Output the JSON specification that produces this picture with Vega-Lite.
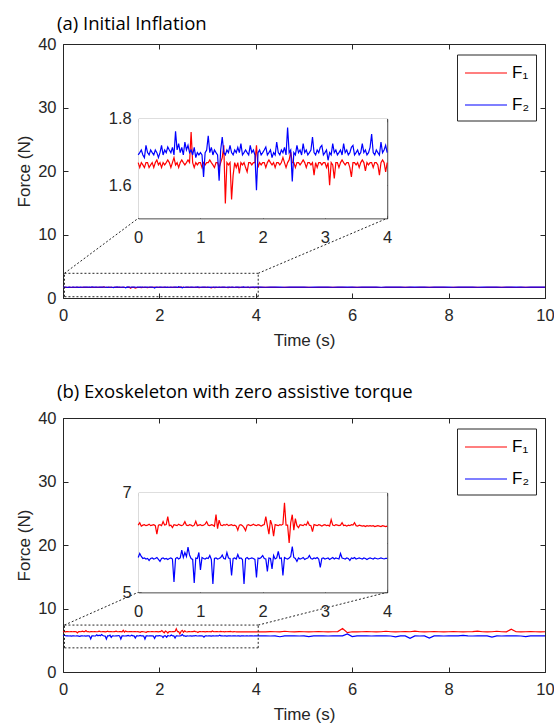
{
"$schema": "https://vega.github.io/schema/vega-lite/v6.json",
"padding": {"left": 15, "top": 14, "right": 5, "bottom": 5},
"config": {
 "view": {"stroke": null},
 "axis": {"grid": false, "minExtent": 0, "domainColor": "#262626", "tickColor": "#262626", "labelColor": "#262626", "titleColor": "#262626", "labelFont": "Liberation Sans", "titleFont": "Liberation Sans", "labelFontSize": 16.5, "titleFontSize": 17, "titleFontWeight": "normal", "domainWidth": 1, "tickWidth": 1, "labelFlush": false, "labelOverlap": false},
 "title": {"font": "Open Sans", "fontSize": 18.5, "fontWeight": "normal", "color": "#000000"},
 "legend": {"labelFont": "Liberation Sans", "labelFontSize": 17, "labelColor": "#000000"}
},
"resolve": {"scale": {"color": "independent"}, "legend": {"color": "independent"}},
"spacing": 33,
"datasets": {
"d": [
{"t":0,"a1":1.668,"a2":1.691,"b1":6.35,"b2":5.70},
{"t":0.025,"a1":1.653,"a2":1.698,"b1":6.40,"b2":5.78},
{"t":0.05,"a1":1.668,"a2":1.706,"b1":6.33,"b2":5.72},
{"t":0.075,"a1":1.661,"a2":1.691,"b1":6.35,"b2":5.68},
{"t":0.1,"a1":1.653,"a2":1.683,"b1":6.36,"b2":5.69},
{"t":0.125,"a1":1.668,"a2":1.72,"b1":6.34,"b2":5.67},
{"t":0.15,"a1":1.668,"a2":1.698,"b1":6.35,"b2":5.68},
{"t":0.175,"a1":1.653,"a2":1.691,"b1":6.37,"b2":5.64},
{"t":0.2,"a1":1.661,"a2":1.706,"b1":6.34,"b2":5.68},
{"t":0.225,"a1":1.668,"a2":1.698,"b1":6.35,"b2":5.69},
{"t":0.25,"a1":1.653,"a2":1.691,"b1":6.36,"b2":5.67},
{"t":0.275,"a1":1.668,"a2":1.706,"b1":6.34,"b2":5.68},
{"t":0.3,"a1":1.676,"a2":1.698,"b1":6.17,"b2":5.70},
{"t":0.325,"a1":1.661,"a2":1.683,"b1":6.35,"b2":5.66},
{"t":0.35,"a1":1.668,"a2":1.698,"b1":6.36,"b2":5.62},
{"t":0.375,"a1":1.653,"a2":1.72,"b1":6.34,"b2":5.68},
{"t":0.4,"a1":1.668,"a2":1.691,"b1":6.42,"b2":5.69},
{"t":0.425,"a1":1.661,"a2":1.706,"b1":6.35,"b2":5.67},
{"t":0.45,"a1":1.668,"a2":1.698,"b1":6.36,"b2":5.68},
{"t":0.475,"a1":1.676,"a2":1.715,"b1":6.52,"b2":5.66},
{"t":0.5,"a1":1.668,"a2":1.706,"b1":6.34,"b2":5.68},
{"t":0.525,"a1":1.653,"a2":1.698,"b1":6.35,"b2":5.69},
{"t":0.55,"a1":1.668,"a2":1.714,"b1":6.30,"b2":5.67},
{"t":0.575,"a1":1.683,"a2":1.691,"b1":6.36,"b2":5.21},
{"t":0.6,"a1":1.661,"a2":1.762,"b1":6.35,"b2":5.68},
{"t":0.625,"a1":1.668,"a2":1.706,"b1":6.34,"b2":5.70},
{"t":0.65,"a1":1.653,"a2":1.725,"b1":6.37,"b2":5.67},
{"t":0.675,"a1":1.668,"a2":1.698,"b1":6.35,"b2":5.69},
{"t":0.7,"a1":1.676,"a2":1.714,"b1":6.34,"b2":5.85},
{"t":0.725,"a1":1.668,"a2":1.691,"b1":6.36,"b2":5.70},
{"t":0.75,"a1":1.661,"a2":1.73,"b1":6.42,"b2":5.80},
{"t":0.775,"a1":1.668,"a2":1.706,"b1":6.35,"b2":5.72},
{"t":0.8,"a1":1.676,"a2":1.72,"b1":6.34,"b2":5.91},
{"t":0.825,"a1":1.668,"a2":1.698,"b1":6.36,"b2":5.75},
{"t":0.85,"a1":1.76,"a2":1.706,"b1":6.35,"b2":5.68},
{"t":0.875,"a1":1.668,"a2":1.691,"b1":6.33,"b2":5.66},
{"t":0.9,"a1":1.653,"a2":1.714,"b1":6.35,"b2":5.19},
{"t":0.925,"a1":1.668,"a2":1.683,"b1":6.43,"b2":5.69},
{"t":0.95,"a1":1.661,"a2":1.698,"b1":6.34,"b2":5.68},
{"t":0.975,"a1":1.668,"a2":1.691,"b1":6.35,"b2":5.80},
{"t":1,"a1":1.668,"a2":1.698,"b1":6.36,"b2":5.45},
{"t":1.025,"a1":1.653,"a2":1.691,"b1":6.34,"b2":5.70},
{"t":1.05,"a1":1.668,"a2":1.625,"b1":6.35,"b2":5.68},
{"t":1.075,"a1":1.661,"a2":1.698,"b1":6.37,"b2":5.67},
{"t":1.1,"a1":1.668,"a2":1.706,"b1":6.42,"b2":5.69},
{"t":1.125,"a1":1.668,"a2":1.749,"b1":6.35,"b2":5.68},
{"t":1.15,"a1":1.676,"a2":1.698,"b1":6.34,"b2":5.74},
{"t":1.175,"a1":1.668,"a2":1.714,"b1":6.36,"b2":5.66},
{"t":1.2,"a1":1.661,"a2":1.691,"b1":6.35,"b2":5.17},
{"t":1.225,"a1":1.653,"a2":1.706,"b1":6.33,"b2":5.68},
{"t":1.25,"a1":1.668,"a2":1.698,"b1":6.56,"b2":5.69},
{"t":1.275,"a1":1.668,"a2":1.691,"b1":6.28,"b2":5.67},
{"t":1.3,"a1":1.653,"a2":1.613,"b1":6.45,"b2":5.68},
{"t":1.325,"a1":1.668,"a2":1.706,"b1":6.35,"b2":5.70},
{"t":1.35,"a1":1.683,"a2":1.745,"b1":6.34,"b2":5.75},
{"t":1.375,"a1":1.72,"a2":1.698,"b1":6.36,"b2":5.68},
{"t":1.4,"a1":1.545,"a2":1.691,"b1":6.35,"b2":5.67},
{"t":1.425,"a1":1.668,"a2":1.706,"b1":6.37,"b2":5.80},
{"t":1.45,"a1":1.661,"a2":1.698,"b1":6.34,"b2":5.69},
{"t":1.475,"a1":1.668,"a2":1.72,"b1":6.35,"b2":5.68},
{"t":1.5,"a1":1.557,"a2":1.698,"b1":6.36,"b2":5.34},
{"t":1.525,"a1":1.63,"a2":1.691,"b1":6.34,"b2":5.68},
{"t":1.55,"a1":1.668,"a2":1.706,"b1":6.35,"b2":5.69},
{"t":1.575,"a1":1.653,"a2":1.698,"b1":6.33,"b2":5.67},
{"t":1.6,"a1":1.668,"a2":1.714,"b1":6.25,"b2":5.76},
{"t":1.625,"a1":1.635,"a2":1.698,"b1":6.35,"b2":5.68},
{"t":1.65,"a1":1.668,"a2":1.725,"b1":6.36,"b2":5.69},
{"t":1.675,"a1":1.661,"a2":1.691,"b1":6.34,"b2":5.66},
{"t":1.7,"a1":1.668,"a2":1.698,"b1":6.30,"b2":5.17},
{"t":1.725,"a1":1.653,"a2":1.706,"b1":6.24,"b2":5.68},
{"t":1.75,"a1":1.64,"a2":1.698,"b1":6.35,"b2":5.70},
{"t":1.775,"a1":1.668,"a2":1.691,"b1":6.36,"b2":5.67},
{"t":1.8,"a1":1.668,"a2":1.72,"b1":6.34,"b2":5.68},
{"t":1.825,"a1":1.661,"a2":1.698,"b1":6.35,"b2":5.69},
{"t":1.85,"a1":1.668,"a2":1.706,"b1":6.37,"b2":5.68},
{"t":1.875,"a1":1.668,"a2":1.691,"b1":6.35,"b2":5.66},
{"t":1.9,"a1":1.72,"a2":1.585,"b1":6.34,"b2":5.30},
{"t":1.925,"a1":1.653,"a2":1.698,"b1":6.36,"b2":5.69},
{"t":1.95,"a1":1.668,"a2":1.706,"b1":6.35,"b2":5.68},
{"t":1.975,"a1":1.661,"a2":1.691,"b1":6.33,"b2":5.70},
{"t":2,"a1":1.668,"a2":1.698,"b1":6.35,"b2":5.74},
{"t":2.025,"a1":1.668,"a2":1.706,"b1":6.36,"b2":5.68},
{"t":2.05,"a1":1.653,"a2":1.715,"b1":6.52,"b2":5.67},
{"t":2.075,"a1":1.668,"a2":1.691,"b1":6.34,"b2":5.42},
{"t":2.1,"a1":1.676,"a2":1.698,"b1":6.17,"b2":5.69},
{"t":2.125,"a1":1.668,"a2":1.706,"b1":6.45,"b2":5.68},
{"t":2.15,"a1":1.661,"a2":1.683,"b1":6.35,"b2":5.47},
{"t":2.175,"a1":1.668,"a2":1.698,"b1":6.13,"b2":5.74},
{"t":2.2,"a1":1.653,"a2":1.691,"b1":6.36,"b2":5.67},
{"t":2.225,"a1":1.668,"a2":1.73,"b1":6.35,"b2":5.69},
{"t":2.25,"a1":1.668,"a2":1.698,"b1":6.34,"b2":5.82},
{"t":2.275,"a1":1.661,"a2":1.691,"b1":6.36,"b2":5.68},
{"t":2.3,"a1":1.668,"a2":1.706,"b1":6.35,"b2":5.69},
{"t":2.325,"a1":1.683,"a2":1.698,"b1":6.37,"b2":5.34},
{"t":2.35,"a1":1.668,"a2":1.714,"b1":6.80,"b2":5.70},
{"t":2.375,"a1":1.653,"a2":1.691,"b1":6.35,"b2":5.68},
{"t":2.4,"a1":1.668,"a2":1.774,"b1":6.35,"b2":5.67},
{"t":2.425,"a1":1.676,"a2":1.698,"b1":5.99,"b2":5.69},
{"t":2.45,"a1":1.70,"a2":1.706,"b1":6.40,"b2":5.72},
{"t":2.475,"a1":1.668,"a2":1.611,"b1":6.56,"b2":5.92},
{"t":2.5,"a1":1.668,"a2":1.698,"b1":6.25,"b2":5.70},
{"t":2.525,"a1":1.653,"a2":1.691,"b1":6.48,"b2":5.68},
{"t":2.55,"a1":1.668,"a2":1.72,"b1":6.34,"b2":5.62},
{"t":2.575,"a1":1.668,"a2":1.698,"b1":6.30,"b2":5.69},
{"t":2.6,"a1":1.661,"a2":1.706,"b1":6.36,"b2":5.67},
{"t":2.625,"a1":1.668,"a2":1.691,"b1":6.35,"b2":5.68},
{"t":2.65,"a1":1.676,"a2":1.725,"b1":6.34,"b2":5.70},
{"t":2.675,"a1":1.668,"a2":1.698,"b1":6.37,"b2":5.66},
{"t":2.7,"a1":1.653,"a2":1.706,"b1":6.35,"b2":5.68},
{"t":2.725,"a1":1.668,"a2":1.691,"b1":6.42,"b2":5.69},
{"t":2.75,"a1":1.668,"a2":1.698,"b1":6.35,"b2":5.74},
{"t":2.775,"a1":1.661,"a2":1.706,"b1":6.34,"b2":5.68},
{"t":2.8,"a1":1.668,"a2":1.745,"b1":6.22,"b2":5.67},
{"t":2.825,"a1":1.63,"a2":1.698,"b1":6.36,"b2":5.69},
{"t":2.85,"a1":1.668,"a2":1.691,"b1":6.35,"b2":5.68},
{"t":2.875,"a1":1.653,"a2":1.706,"b1":6.34,"b2":5.70},
{"t":2.9,"a1":1.668,"a2":1.698,"b1":6.36,"b2":5.67},
{"t":2.925,"a1":1.668,"a2":1.714,"b1":6.35,"b2":5.50},
{"t":2.95,"a1":1.661,"a2":1.72,"b1":6.33,"b2":5.68},
{"t":2.975,"a1":1.668,"a2":1.691,"b1":6.35,"b2":5.69},
{"t":3,"a1":1.668,"a2":1.698,"b1":6.36,"b2":5.67},
{"t":3.025,"a1":1.653,"a2":1.706,"b1":6.34,"b2":5.68},
{"t":3.05,"a1":1.668,"a2":1.675,"b1":6.35,"b2":5.69},
{"t":3.075,"a1":1.60,"a2":1.698,"b1":6.33,"b2":5.66},
{"t":3.1,"a1":1.668,"a2":1.691,"b1":6.46,"b2":5.68},
{"t":3.125,"a1":1.661,"a2":1.725,"b1":6.35,"b2":5.70},
{"t":3.15,"a1":1.62,"a2":1.698,"b1":6.34,"b2":5.67},
{"t":3.175,"a1":1.668,"a2":1.706,"b1":6.36,"b2":5.69},
{"t":3.2,"a1":1.668,"a2":1.691,"b1":6.35,"b2":5.68},
{"t":3.225,"a1":1.653,"a2":1.698,"b1":6.34,"b2":5.67},
{"t":3.25,"a1":1.668,"a2":1.706,"b1":6.35,"b2":5.78},
{"t":3.275,"a1":1.676,"a2":1.691,"b1":6.40,"b2":5.69},
{"t":3.3,"a1":1.668,"a2":1.725,"b1":6.34,"b2":5.68},
{"t":3.325,"a1":1.661,"a2":1.698,"b1":6.35,"b2":5.67},
{"t":3.35,"a1":1.668,"a2":1.706,"b1":6.33,"b2":5.69},
{"t":3.375,"a1":1.668,"a2":1.691,"b1":6.35,"b2":5.68},
{"t":3.4,"a1":1.653,"a2":1.698,"b1":6.34,"b2":5.64},
{"t":3.425,"a1":1.625,"a2":1.714,"b1":6.36,"b2":5.69},
{"t":3.45,"a1":1.668,"a2":1.72,"b1":6.35,"b2":5.68},
{"t":3.475,"a1":1.668,"a2":1.691,"b1":6.40,"b2":5.70},
{"t":3.5,"a1":1.661,"a2":1.698,"b1":6.34,"b2":5.67},
{"t":3.525,"a1":1.668,"a2":1.706,"b1":6.33,"b2":5.68},
{"t":3.55,"a1":1.653,"a2":1.691,"b1":6.35,"b2":5.69},
{"t":3.575,"a1":1.668,"a2":1.698,"b1":6.34,"b2":5.68},
{"t":3.6,"a1":1.676,"a2":1.725,"b1":6.33,"b2":5.67},
{"t":3.625,"a1":1.668,"a2":1.698,"b1":6.34,"b2":5.69},
{"t":3.65,"a1":1.643,"a2":1.706,"b1":6.32,"b2":5.68},
{"t":3.675,"a1":1.668,"a2":1.691,"b1":6.34,"b2":5.66},
{"t":3.7,"a1":1.661,"a2":1.698,"b1":6.33,"b2":5.68},
{"t":3.725,"a1":1.668,"a2":1.714,"b1":6.34,"b2":5.69},
{"t":3.75,"a1":1.668,"a2":1.754,"b1":6.33,"b2":5.68},
{"t":3.775,"a1":1.653,"a2":1.698,"b1":6.34,"b2":5.67},
{"t":3.8,"a1":1.668,"a2":1.691,"b1":6.32,"b2":5.69},
{"t":3.825,"a1":1.668,"a2":1.706,"b1":6.33,"b2":5.68},
{"t":3.85,"a1":1.661,"a2":1.698,"b1":6.34,"b2":5.67},
{"t":3.875,"a1":1.63,"a2":1.691,"b1":6.33,"b2":5.68},
{"t":3.9,"a1":1.668,"a2":1.73,"b1":6.32,"b2":5.69},
{"t":3.925,"a1":1.676,"a2":1.698,"b1":6.34,"b2":5.68},
{"t":3.95,"a1":1.668,"a2":1.706,"b1":6.33,"b2":5.67},
{"t":3.975,"a1":1.64,"a2":1.72,"b1":6.32,"b2":5.68},
{"t":4,"a1":1.668,"a2":1.698,"b1":6.33,"b2":5.68},
{"t":4.1,"a1":1.668,"a2":1.698,"b1":6.34,"b2":5.68},
{"t":4.2,"a1":1.661,"a2":1.691,"b1":6.33,"b2":5.69},
{"t":4.3,"a1":1.668,"a2":1.698,"b1":6.35,"b2":5.67},
{"t":4.4,"a1":1.668,"a2":1.706,"b1":6.34,"b2":5.68},
{"t":4.5,"a1":1.653,"a2":1.698,"b1":6.33,"b2":5.55},
{"t":4.6,"a1":1.668,"a2":1.691,"b1":6.42,"b2":5.68},
{"t":4.7,"a1":1.668,"a2":1.698,"b1":6.34,"b2":5.69},
{"t":4.8,"a1":1.661,"a2":1.698,"b1":6.33,"b2":5.68},
{"t":4.9,"a1":1.668,"a2":1.706,"b1":6.35,"b2":5.67},
{"t":5,"a1":1.668,"a2":1.698,"b1":6.34,"b2":5.68},
{"t":5.1,"a1":1.668,"a2":1.691,"b1":6.33,"b2":5.58},
{"t":5.2,"a1":1.653,"a2":1.698,"b1":6.34,"b2":5.68},
{"t":5.3,"a1":1.668,"a2":1.698,"b1":6.35,"b2":5.69},
{"t":5.4,"a1":1.668,"a2":1.706,"b1":6.34,"b2":5.68},
{"t":5.5,"a1":1.661,"a2":1.698,"b1":6.33,"b2":5.67},
{"t":5.6,"a1":1.668,"a2":1.691,"b1":6.34,"b2":5.68},
{"t":5.7,"a1":1.668,"a2":1.698,"b1":6.36,"b2":5.69},
{"t":5.8,"a1":1.668,"a2":1.698,"b1":6.85,"b2":5.68},
{"t":5.9,"a1":1.653,"a2":1.706,"b1":6.20,"b2":5.98},
{"t":6,"a1":1.668,"a2":1.698,"b1":6.34,"b2":5.58},
{"t":6.1,"a1":1.668,"a2":1.691,"b1":6.33,"b2":5.68},
{"t":6.2,"a1":1.661,"a2":1.698,"b1":6.34,"b2":5.69},
{"t":6.3,"a1":1.668,"a2":1.698,"b1":6.35,"b2":5.68},
{"t":6.4,"a1":1.668,"a2":1.706,"b1":6.34,"b2":5.67},
{"t":6.5,"a1":1.668,"a2":1.698,"b1":6.33,"b2":5.68},
{"t":6.6,"a1":1.653,"a2":1.691,"b1":6.34,"b2":5.69},
{"t":6.7,"a1":1.668,"a2":1.698,"b1":6.42,"b2":5.68},
{"t":6.8,"a1":1.668,"a2":1.698,"b1":6.34,"b2":5.67},
{"t":6.9,"a1":1.661,"a2":1.706,"b1":6.33,"b2":5.52},
{"t":7,"a1":1.668,"a2":1.698,"b1":6.34,"b2":5.68},
{"t":7.1,"a1":1.668,"a2":1.691,"b1":6.35,"b2":5.69},
{"t":7.2,"a1":1.668,"a2":1.698,"b1":6.34,"b2":5.30},
{"t":7.3,"a1":1.653,"a2":1.698,"b1":6.45,"b2":5.68},
{"t":7.4,"a1":1.668,"a2":1.706,"b1":6.34,"b2":5.67},
{"t":7.5,"a1":1.668,"a2":1.698,"b1":6.33,"b2":5.68},
{"t":7.6,"a1":1.661,"a2":1.691,"b1":6.34,"b2":5.35},
{"t":7.7,"a1":1.668,"a2":1.698,"b1":6.35,"b2":5.69},
{"t":7.8,"a1":1.668,"a2":1.698,"b1":6.34,"b2":5.68},
{"t":7.9,"a1":1.668,"a2":1.706,"b1":6.33,"b2":5.67},
{"t":8,"a1":1.653,"a2":1.698,"b1":6.34,"b2":5.68},
{"t":8.1,"a1":1.668,"a2":1.691,"b1":6.35,"b2":5.69},
{"t":8.2,"a1":1.668,"a2":1.698,"b1":6.34,"b2":5.68},
{"t":8.3,"a1":1.661,"a2":1.698,"b1":6.33,"b2":5.78},
{"t":8.4,"a1":1.668,"a2":1.706,"b1":6.34,"b2":5.68},
{"t":8.5,"a1":1.668,"a2":1.698,"b1":6.35,"b2":5.67},
{"t":8.6,"a1":1.668,"a2":1.691,"b1":6.45,"b2":5.68},
{"t":8.7,"a1":1.653,"a2":1.698,"b1":6.34,"b2":5.69},
{"t":8.8,"a1":1.668,"a2":1.698,"b1":6.33,"b2":5.68},
{"t":8.9,"a1":1.668,"a2":1.706,"b1":6.34,"b2":5.50},
{"t":9,"a1":1.661,"a2":1.698,"b1":6.42,"b2":5.68},
{"t":9.1,"a1":1.668,"a2":1.691,"b1":6.34,"b2":5.67},
{"t":9.2,"a1":1.668,"a2":1.698,"b1":6.33,"b2":5.68},
{"t":9.3,"a1":1.668,"a2":1.698,"b1":6.75,"b2":5.69},
{"t":9.4,"a1":1.653,"a2":1.706,"b1":6.34,"b2":5.68},
{"t":9.5,"a1":1.668,"a2":1.698,"b1":6.33,"b2":5.67},
{"t":9.6,"a1":1.668,"a2":1.691,"b1":6.34,"b2":5.58},
{"t":9.7,"a1":1.661,"a2":1.698,"b1":6.35,"b2":5.68},
{"t":9.8,"a1":1.668,"a2":1.698,"b1":6.34,"b2":5.69},
{"t":9.9,"a1":1.668,"a2":1.706,"b1":6.33,"b2":5.68},
{"t":10,"a1":1.668,"a2":1.698,"b1":6.34,"b2":5.68}
]
},
"vconcat": [
{
 "width": 482, "height": 254,
 "title": {"text": "(a) Initial Inflation", "anchor": "start", "frame": "group", "dx": -6, "offset": -12, "baseline": "alphabetic"},
 "resolve": {"scale": {"x": "independent", "y": "independent"}},
 "layer": [
  {
   "data": {"name": "d"},
   "transform": [{"fold": ["a1", "a2"], "as": ["s", "v"]}],
   "mark": {"type": "line", "strokeWidth": 1.2},
   "encoding": {
    "x": {"field": "t", "type": "quantitative", "scale": {"domain": [0, 10], "nice": false}, "axis": {"orient": "bottom", "values": [0, 2, 4, 6, 8, 10], "title": "Time (s)", "tickSize": -5, "labelPadding": 14, "titlePadding": 9}},
    "y": {"field": "v", "type": "quantitative", "scale": {"domain": [0, 40], "nice": false}, "axis": {"orient": "left", "values": [0, 10, 20, 30, 40], "title": "Force (N)", "tickSize": -5, "labelPadding": 12, "titlePadding": 4}},
    "color": {"field": "s", "type": "nominal", "scale": {"domain": ["a1", "a2"], "range": ["#ff0000", "#0000ff"]},
     "legend": {"title": null, "orient": "none", "legendX": 394, "legendY": 10.5, "symbolType": "M-2,0H2", "symbolSize": 441, "symbolOffset": 10.5, "symbolStrokeWidth": 1.2, "padding": 7, "rowPadding": 12, "labelOffset": 14.5, "strokeColor": "#262626", "fillColor": "#ffffff", "labelExpr": "datum.value === 'a1' ? 'F₁' : 'F₂'"}}
   }
  },
  {
   "data": {"values": [
    {"x0": 0.03, "y0": 0.2, "x1": 4.05, "y1": 0.2},
    {"x0": 0.03, "y0": 3.89, "x1": 4.05, "y1": 3.89},
    {"x0": 0.03, "y0": 0.2, "x1": 0.03, "y1": 3.89},
    {"x0": 4.05, "y0": 0.2, "x1": 4.05, "y1": 3.89},
    {"x0": 0.03, "y0": 3.89, "x1": 1.56, "y1": 12.55},
    {"x0": 4.05, "y0": 3.89, "x1": 6.726, "y1": 12.55}
   ]},
   "mark": {"type": "rule", "color": "#262626", "strokeWidth": 1, "strokeDash": [2, 2]},
   "encoding": {
    "x": {"field": "x0", "type": "quantitative", "scale": {"domain": [0, 10], "nice": false}, "axis": {"orient": "top", "values": [0, 2, 4, 6, 8, 10], "labels": false, "title": null, "tickSize": -5}},
    "x2": {"field": "x1"},
    "y": {"field": "y0", "type": "quantitative", "scale": {"domain": [0, 40], "nice": false}, "axis": {"orient": "right", "values": [0, 10, 20, 30, 40], "labels": false, "title": null, "tickSize": -5}},
    "y2": {"field": "y1"}
   }
  },
  {
   "data": {"values": [{"x0": 0, "x1": 4, "y0": 1.5, "y1": 1.8}]},
   "mark": {"type": "rect", "fill": "#ffffff"},
   "encoding": {
    "x": {"field": "x0", "type": "quantitative", "scale": {"domain": [0, 4], "range": [75.2, 324.2], "nice": false, "zero": false}, "axis": {"orient": "top", "offset": -74.8, "values": [0, 1, 2, 3, 4], "labels": false, "title": null, "tickSize": -3}},
    "x2": {"field": "x1"},
    "y": {"field": "y0", "type": "quantitative", "scale": {"domain": [1.5, 1.8], "range": [174.3, 74.8], "nice": false, "zero": false}, "axis": {"orient": "right", "offset": -157.8, "values": [1.6, 1.8], "labels": false, "title": null, "tickSize": -3}},
    "y2": {"field": "y1"}
   }
  },
  {
   "data": {"name": "d"},
   "transform": [{"filter": "datum.t <= 4"}, {"fold": ["a1", "a2"], "as": ["s", "v"]}],
   "mark": {"type": "line", "strokeWidth": 1.2},
   "encoding": {
    "x": {"field": "t", "type": "quantitative", "scale": {"domain": [0, 4], "range": [75.2, 324.2], "nice": false, "zero": false}, "axis": {"orient": "bottom", "offset": -79.7, "values": [0, 1, 2, 3, 4], "title": null, "tickSize": -3, "labelPadding": 14}},
    "y": {"field": "v", "type": "quantitative", "scale": {"domain": [1.5, 1.8], "range": [174.3, 74.8], "nice": false, "zero": false}, "axis": {"orient": "left", "offset": -75.2, "values": [1.6, 1.8], "format": ".1f", "title": null, "tickSize": -3, "labelPadding": 10}},
    "color": {"field": "s", "type": "nominal"}
   }
  }
 ]
},
{
 "width": 482, "height": 254,
 "title": {"text": "(b) Exoskeleton with zero assistive torque", "anchor": "start", "frame": "group", "dx": -6, "offset": -6, "baseline": "alphabetic"},
 "resolve": {"scale": {"x": "independent", "y": "independent"}},
 "layer": [
  {
   "data": {"name": "d"},
   "transform": [{"fold": ["b1", "b2"], "as": ["s", "v"]}],
   "mark": {"type": "line", "strokeWidth": 1.2},
   "encoding": {
    "x": {"field": "t", "type": "quantitative", "scale": {"domain": [0, 10], "nice": false}, "axis": {"orient": "bottom", "values": [0, 2, 4, 6, 8, 10], "title": "Time (s)", "tickSize": -5, "labelPadding": 14, "titlePadding": 9}},
    "y": {"field": "v", "type": "quantitative", "scale": {"domain": [0, 40], "nice": false}, "axis": {"orient": "left", "values": [0, 10, 20, 30, 40], "title": "Force (N)", "tickSize": -5, "labelPadding": 12, "titlePadding": 4}},
    "color": {"field": "s", "type": "nominal", "scale": {"domain": ["b1", "b2"], "range": ["#ff0000", "#0000ff"]},
     "legend": {"title": null, "orient": "none", "legendX": 394, "legendY": 10.5, "symbolType": "M-2,0H2", "symbolSize": 441, "symbolOffset": 10.5, "symbolStrokeWidth": 1.2, "padding": 7, "rowPadding": 12, "labelOffset": 14.5, "strokeColor": "#262626", "fillColor": "#ffffff", "labelExpr": "datum.value === 'b1' ? 'F₁' : 'F₂'"}}
   }
  },
  {
   "data": {"values": [
    {"x0": 0.03, "y0": 3.8, "x1": 4.05, "y1": 3.8},
    {"x0": 0.03, "y0": 7.39, "x1": 4.05, "y1": 7.39},
    {"x0": 0.03, "y0": 3.8, "x1": 0.03, "y1": 7.39},
    {"x0": 4.05, "y0": 3.8, "x1": 4.05, "y1": 7.39},
    {"x0": 0.03, "y0": 7.39, "x1": 1.56, "y1": 12.55},
    {"x0": 4.05, "y0": 7.39, "x1": 6.726, "y1": 12.55}
   ]},
   "mark": {"type": "rule", "color": "#262626", "strokeWidth": 1, "strokeDash": [2, 2]},
   "encoding": {
    "x": {"field": "x0", "type": "quantitative", "scale": {"domain": [0, 10], "nice": false}, "axis": {"orient": "top", "values": [0, 2, 4, 6, 8, 10], "labels": false, "title": null, "tickSize": -5}},
    "x2": {"field": "x1"},
    "y": {"field": "y0", "type": "quantitative", "scale": {"domain": [0, 40], "nice": false}, "axis": {"orient": "right", "values": [0, 10, 20, 30, 40], "labels": false, "title": null, "tickSize": -5}},
    "y2": {"field": "y1"}
   }
  },
  {
   "data": {"values": [{"x0": 0, "x1": 4, "y0": 5, "y1": 7}]},
   "mark": {"type": "rect", "fill": "#ffffff"},
   "encoding": {
    "x": {"field": "x0", "type": "quantitative", "scale": {"domain": [0, 4], "range": [75.2, 324.2], "nice": false, "zero": false}, "axis": {"orient": "top", "offset": -74.8, "values": [0, 1, 2, 3, 4], "labels": false, "title": null, "tickSize": -3}},
    "x2": {"field": "x1"},
    "y": {"field": "y0", "type": "quantitative", "scale": {"domain": [5, 7], "range": [174.3, 74.8], "nice": false, "zero": false}, "axis": {"orient": "right", "offset": -157.8, "values": [5, 6, 7], "labels": false, "title": null, "tickSize": -3}},
    "y2": {"field": "y1"}
   }
  },
  {
   "data": {"name": "d"},
   "transform": [{"filter": "datum.t <= 4"}, {"fold": ["b1", "b2"], "as": ["s", "v"]}],
   "mark": {"type": "line", "strokeWidth": 1.2},
   "encoding": {
    "x": {"field": "t", "type": "quantitative", "scale": {"domain": [0, 4], "range": [75.2, 324.2], "nice": false, "zero": false}, "axis": {"orient": "bottom", "offset": -79.7, "values": [0, 1, 2, 3, 4], "title": null, "tickSize": -3, "labelPadding": 14}},
    "y": {"field": "v", "type": "quantitative", "scale": {"domain": [5, 7], "range": [174.3, 74.8], "nice": false, "zero": false}, "axis": {"orient": "left", "offset": -75.2, "values": [5, 6, 7], "format": "d", "title": null, "tickSize": -3, "labelPadding": 10}},
    "color": {"field": "s", "type": "nominal"}
   }
  }
 ]
}
]
}
